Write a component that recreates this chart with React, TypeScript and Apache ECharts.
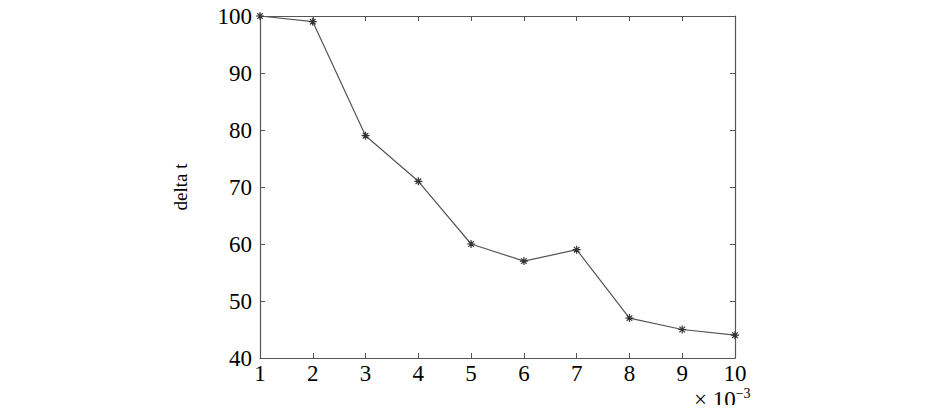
import React, { useEffect, useRef } from "react";
import * as echarts from "echarts";

const xValues = [1, 2, 3, 4, 5, 6, 7, 8, 9, 10];
const deltaT = [100, 99, 79, 71, 60, 57, 59, 47, 45, 44];

const FONT = "Liberation Serif";
const AX = "#555";

export default function App() {
  const ref = useRef<HTMLDivElement>(null);
  useEffect(() => {
    if (!ref.current) return;
    const chart = echarts.init(ref.current, undefined, { renderer: "svg" });
    const axisCommon = {
      axisLine: { show: true, lineStyle: { color: AX, width: 1.2 } },
      axisTick: { show: true, inside: true, length: 5, lineStyle: { color: AX } },
      splitLine: { show: false },
    };
    chart.setOption({
      animation: false,
      backgroundColor: "#fff",
      grid: { left: 260, right: 210, top: 16, bottom: 55 },
      xAxis: [
        {
          type: "value", min: 1, max: 10, interval: 1, position: "bottom",
          ...axisCommon,
          axisLabel: { color: "#000", fontFamily: FONT, fontSize: 23, margin: 4 },
        },
        {
          type: "value", min: 1, max: 10, interval: 1, position: "top",
          ...axisCommon, axisLabel: { show: false },
        },
      ],
      yAxis: [
        {
          type: "value", min: 40, max: 100, interval: 10, position: "left",
          ...axisCommon,
          axisLabel: { color: "#000", fontFamily: FONT, fontSize: 23, margin: 8 },
          name: "delta t", nameLocation: "middle", nameGap: 70, nameRotate: 90,
          nameTextStyle: { color: "#000", fontFamily: FONT, fontSize: 19 },
        },
        {
          type: "value", min: 40, max: 100, interval: 10, position: "right",
          ...axisCommon, axisLabel: { show: false },
        },
      ],
      graphic: [
        {
          type: "text", left: 694, top: 386,
          style: {
            text: "{a|× 10}{b|−3}",
            rich: {
              a: { fontFamily: FONT, fontSize: 23, fill: "#000" },
              b: { fontFamily: FONT, fontSize: 14, fill: "#000", verticalAlign: "top", padding: [0, 0, 12, 0] },
            },
          },
        },
      ],
      series: [
        {
          type: "line",
          data: xValues.map((x, i) => [x, deltaT[i]]),
          lineStyle: { color: "#555", width: 1.2 },
          symbol: "path://M5,0L5,10M0,5L10,5M1.5,1.5L8.5,8.5M8.5,1.5L1.5,8.5",
          symbolSize: 8,
          itemStyle: { color: "none", borderColor: "#333", borderWidth: 1.2 },
        },
      ],
    });
    return () => chart.dispose();
  }, []);
  return <div ref={ref} style={{ width: 945, height: 413, margin: -8 }} />;
}
